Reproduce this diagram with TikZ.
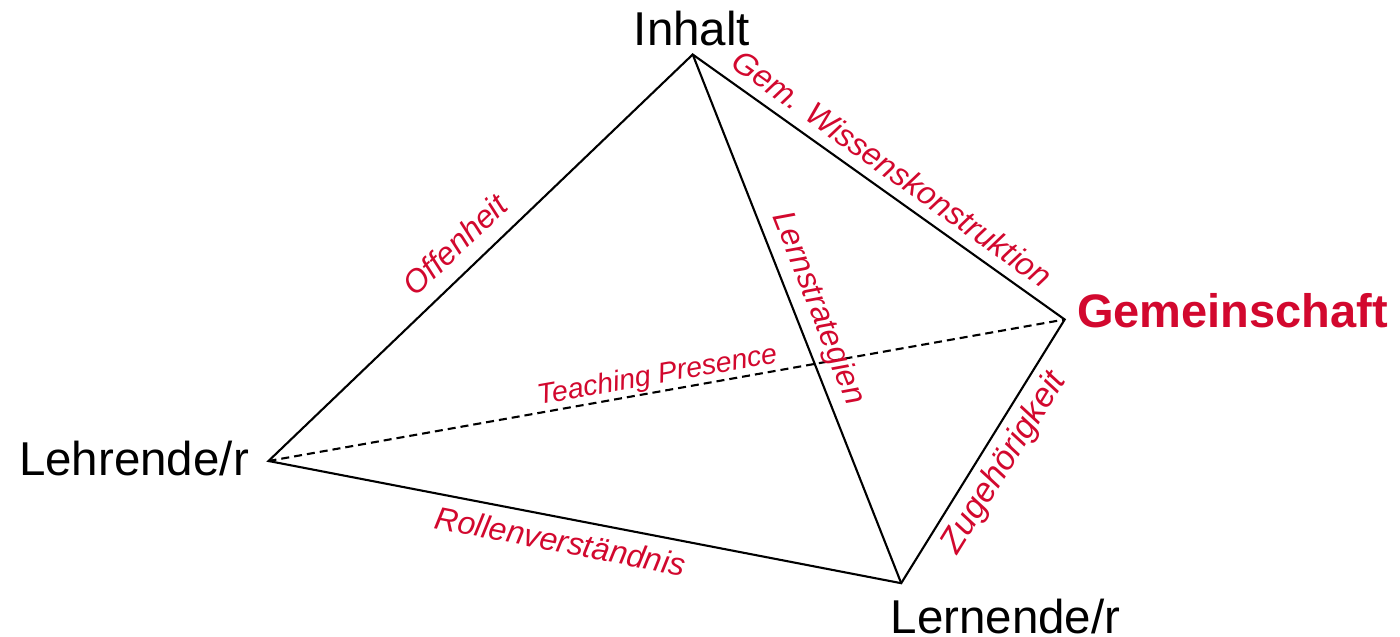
\documentclass[tikz,border=0pt]{standalone}
\usepackage{fontspec}
\setmainfont{Liberation Sans}
\definecolor{lred}{RGB}{210,8,46}
\begin{document}
\begin{tikzpicture}[x=1pt,y=1pt,
  edge/.style={line width=2.1pt, line join=miter, line cap=butt},
  hidden/.style={line width=2.1pt, line cap=butt, dash pattern=on 8pt off 5pt},
  vlabel/.style={inner sep=0pt, anchor=base, font=\fontsize{47.5}{47.5}\selectfont},
  elabel/.style={inner sep=0pt, anchor=base, text=lred, font=\fontsize{32}{32}\selectfont\itshape}]
\useasboundingbox (0,0) rectangle (1400,637);
% vertices
\coordinate (I) at (692.7,582.5);
\coordinate (L) at (268.5,176);
\coordinate (N) at (901.2,53.8);
\coordinate (G) at (1064.7,317.5);
% edges
\draw[hidden] (L) -- (G);
\draw[edge] (L) -- (I) -- (G) -- (N) -- cycle;
\draw[edge] (I) -- (N);
% vertex labels
\node[vlabel] (inhalt) at (692,591.3) {Inhalt};
\node[vlabel] (lehrende) at (134,161.3) {Lehrende/r};
\node[vlabel] (lernende) at (1005.5,3.5) {Lernende/r};
\node[vlabel, text=lred, font=\fontsize{47}{47}\selectfont\bfseries] (gemeinschaft) at (1232.5,309.3) {Gemeinschaft};
% edge labels
\node[elabel, rotate=-35.5] (gw) at (885.8,459.4) {Gem. Wissenskonstruktion};
\node[elabel, rotate=-68.5] (ls) at (810.1,325.4) {Lernstrategien};
\node[elabel, rotate=10.04, font=\fontsize{28.5}{28.5}\selectfont\itshape] (tp) at (658.7,253.5) {Teaching Presence};
\node[elabel, rotate=43.76] (of) at (462.6,384.1) {Offenheit};
\node[elabel, rotate=-11.0] (rv) at (558.3,84.7) {Rollenverständnis};
\node[elabel, rotate=58.25, font=\fontsize{34}{34}\selectfont\itshape] (zg) at (1011.8,169.2) {Zugehörigkeit};
\end{tikzpicture}
\end{document}
